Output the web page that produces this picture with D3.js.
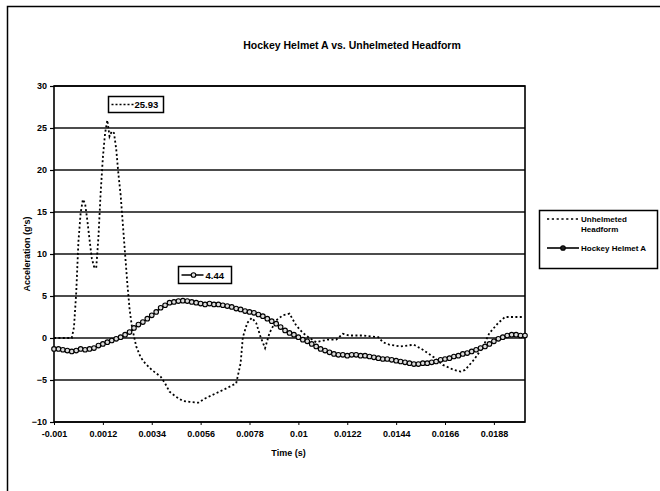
<!DOCTYPE html>
<html>
<head>
<meta charset="utf-8">
<script src="https://cdn.jsdelivr.net/npm/d3@7"></script>
<style>
  html, body { margin: 0; padding: 0; background: #fff; }
  svg text { font-family: "Liberation Sans", Arial, sans-serif; font-weight: bold; fill: #000; }
</style>
</head>
<body>
<svg id="chart" width="660" height="491"></svg>
<script>
// ---------------- DATA ----------------
const chartTitle = "Hockey Helmet A vs. Unhelmeted Headform";
const xTitle = "Time (s)";
const yTitle = "Acceleration (g's)";
const xTickValues = [-0.001, 0.0012, 0.0034, 0.0056, 0.0078, 0.01, 0.0122, 0.0144, 0.0166, 0.0188];
const xTickLabels = ["-0.001", "0.0012", "0.0034", "0.0056", "0.0078", "0.01", "0.0122", "0.0144", "0.0166", "0.0188"];
const yTickValues = [-10, -5, 0, 5, 10, 15, 20, 25, 30];
const seriesNames = ["Unhelmeted Headform", "Hockey Helmet A"];

// Unhelmeted headform (dotted line)
const unhelmetedTime = [
  -0.001, -0.0005, -0.0002, -0.0001, 0.0, 0.0001, 0.0002, 0.0003, 0.0004, 0.0005,
  0.0006, 0.0007, 0.0008, 0.0009, 0.0010, 0.0011, 0.0012, 0.0013, 0.0014, 0.0015,
  0.0016, 0.0017, 0.0018, 0.0019, 0.0020, 0.0021, 0.0022, 0.0023, 0.0024, 0.0025,
  0.0026, 0.0027, 0.0029, 0.0031, 0.0034, 0.0038, 0.0040, 0.0042, 0.0045, 0.0048,
  0.0051, 0.0055, 0.0058, 0.0062, 0.0066, 0.0072, 0.0074, 0.0075, 0.0077, 0.0079,
  0.0081, 0.0083, 0.0085, 0.0087, 0.0090, 0.0093, 0.0096, 0.0099, 0.0102, 0.0105,
  0.0108, 0.0113, 0.0117, 0.0120, 0.0123, 0.0129, 0.0136, 0.0138, 0.0141, 0.0146,
  0.0152, 0.0156, 0.0161, 0.0165, 0.0170, 0.0173, 0.0175, 0.0179, 0.0183, 0.0186,
  0.0190, 0.0193, 0.0197, 0.0201
];
const unhelmetedAccel = [
  0, 0, 0, 1.3, 5.4, 11.5, 14.9, 16.5, 16.0, 14.0,
  11.7, 9.5, 8.5, 8.3, 12.0, 17.3, 21.5, 24.4, 25.93, 24.0,
  24.6, 24.4, 22.5, 19.5, 17.0, 13.5, 10.0, 6.5, 3.5, 1.5,
  0.2, -1.0, -2.3, -3.0, -3.8, -4.6, -5.4, -6.4, -7.0, -7.5,
  -7.6, -7.7, -7.2, -6.7, -6.2, -5.4, -3.0, 0.1, 1.8, 2.4,
  1.8, 0.1, -1.2, 0.6, 2.1, 2.7, 2.9, 1.5, 0.6, 0,
  -0.5, -0.2, -0.2, 0.5, 0.3, 0.3, 0.1, -0.5, -0.8, -1.0,
  -0.8, -1.4, -2.3, -3.2, -3.8, -4.0, -3.8, -2.6, -1.1, 0.6,
  1.8, 2.5, 2.5, 2.5
];

// Hockey helmet A (solid line with circle markers), sampled every 0.0002 s from -0.001 s
const helmetStart = -0.001;
const helmetStep = 0.0002;
const helmetAccel = [
  -1.3, -1.3, -1.4, -1.5, -1.6,
  -1.5, -1.3, -1.4, -1.3, -1.2, -0.9, -0.7, -0.5, -0.3, -0.1,
  0.1, 0.4, 0.7, 1.2, 1.6, 1.9, 2.3, 2.7, 3.1, 3.6,
  3.9, 4.2, 4.3, 4.4, 4.44, 4.4, 4.3, 4.2, 4.1, 4.0,
  4.1, 4.0, 4.0, 3.9, 3.8, 3.7, 3.5, 3.4, 3.2, 3.1,
  3.0, 2.8, 2.6, 2.3, 2.0, 1.7, 1.3, 0.9, 0.6, 0.4,
  0.1, -0.2, -0.4, -0.7, -1.0, -1.3, -1.5, -1.7, -1.9, -2.0,
  -2.0, -2.1, -2.0, -2.0, -2.1, -2.1, -2.2, -2.3, -2.4, -2.5,
  -2.5, -2.6, -2.7, -2.8, -2.9, -3.0, -3.1, -3.1, -3.0, -3.0,
  -2.9, -2.8, -2.6, -2.5, -2.4, -2.2, -2.1, -1.9, -1.8, -1.6,
  -1.4, -1.2, -1.0, -0.7, -0.4, -0.1, 0.1, 0.3, 0.4, 0.4,
  0.3, 0.3
];
const helmetTime = helmetAccel.map((_, i) => helmetStart + i * helmetStep);

// ---------------- CHART ----------------
const svg = d3.select("#chart");
const W = 660, H = 491;
const plot = { left: 54, right: 525, top: 86, bottom: 422 };

svg.append("rect").attr("x", 0).attr("y", 0).attr("width", W).attr("height", H).attr("fill", "#fff");
// chart area frame (extends beyond the picture on right/bottom)
svg.append("rect").attr("x", 7.5).attr("y", 6.5).attr("width", 760).attr("height", 600)
  .attr("fill", "none").attr("stroke", "#000").attr("stroke-width", 1.5);

const x = d3.scaleLinear().domain([-0.001, 0.0202]).range([plot.left, plot.right]);
const y = d3.scaleLinear().domain([-10, 30]).range([plot.bottom, plot.top]);

// title
svg.append("text").attr("x", 352).attr("y", 49).attr("text-anchor", "middle")
  .attr("font-size", 10.5).text(chartTitle);

// gridlines
svg.append("g").selectAll("line").data(yTickValues).join("line")
  .attr("x1", plot.left).attr("x2", plot.right)
  .attr("y1", d => y(d)).attr("y2", d => y(d))
  .attr("stroke", "#111").attr("stroke-width", 1.4);

// y axis
const yAxis = d3.axisLeft(y).tickValues(yTickValues).tickSize(4).tickPadding(3).tickFormat(d3.format("d"));
const gy = svg.append("g").attr("transform", `translate(${plot.left},0)`).call(yAxis);
gy.select(".domain").remove();
gy.selectAll("line").attr("stroke", "#000").attr("stroke-width", 1.2);
gy.selectAll("text").attr("font-size", 9).style("font-family", "Liberation Sans, Arial, sans-serif").style("font-weight", "bold");

// x axis
const xAxis = d3.axisBottom(x).tickValues(xTickValues).tickSize(3).tickPadding(6)
  .tickFormat((d, i) => xTickLabels[i]);
const gx = svg.append("g").attr("transform", `translate(0,${plot.bottom})`).call(xAxis);
gx.select(".domain").remove();
gx.selectAll("line").attr("stroke", "#000").attr("stroke-width", 1);
gx.selectAll("text").attr("font-size", 9).style("font-family", "Liberation Sans, Arial, sans-serif").style("font-weight", "bold");

// plot frame
svg.append("rect").attr("x", plot.left).attr("y", plot.top)
  .attr("width", plot.right - plot.left).attr("height", plot.bottom - plot.top)
  .attr("fill", "none").attr("stroke", "#000").attr("stroke-width", 1.6);

// axis titles
svg.append("text").attr("x", (plot.left + plot.right) / 2 - 1).attr("y", 456)
  .attr("text-anchor", "middle").attr("font-size", 9).text(xTitle);
svg.append("text").attr("transform", `translate(30,${(plot.top + plot.bottom) / 2}) rotate(-90)`)
  .attr("text-anchor", "middle").attr("font-size", 9).text(yTitle);

// series
const line = d3.line().x(d => x(d[0])).y(d => y(d[1]));
const unData = unhelmetedTime.map((t, i) => [t, unhelmetedAccel[i]]);
const heData = helmetTime.map((t, i) => [t, helmetAccel[i]]);

svg.append("path").datum(unData).attr("d", line)
  .attr("fill", "none").attr("stroke", "#000").attr("stroke-width", 1.8)
  .attr("stroke-dasharray", "2,2.4");

svg.append("path").datum(heData).attr("d", line)
  .attr("fill", "none").attr("stroke", "#000").attr("stroke-width", 1.6);
svg.append("g").selectAll("circle").data(heData).join("circle")
  .attr("cx", d => x(d[0])).attr("cy", d => y(d[1])).attr("r", 2.3)
  .attr("fill", "#ddd").attr("stroke", "#000").attr("stroke-width", 1.1);

// data labels (max values)
function dataLabel(bx, by, bw, bh, dotted, label) {
  const g = svg.append("g");
  g.append("rect").attr("x", bx).attr("y", by).attr("width", bw).attr("height", bh)
    .attr("fill", "#fff").attr("stroke", "#000").attr("stroke-width", 1.5);
  const cy = by + bh / 2;
  if (dotted) {
    g.append("line").attr("x1", bx + 3).attr("x2", bx + 25).attr("y1", cy).attr("y2", cy)
      .attr("stroke", "#000").attr("stroke-width", 1.5).attr("stroke-dasharray", "2,2");
    g.append("text").attr("x", bx + 26).attr("y", cy + 3.5).attr("font-size", 9.5).text(label);
  } else {
    g.append("line").attr("x1", bx + 3).attr("x2", bx + 25).attr("y1", cy).attr("y2", cy)
      .attr("stroke", "#000").attr("stroke-width", 1.5);
    g.append("circle").attr("cx", bx + 15).attr("cy", cy).attr("r", 2.3)
      .attr("fill", "#ddd").attr("stroke", "#000").attr("stroke-width", 1.1);
    g.append("text").attr("x", bx + 27).attr("y", cy + 3.5).attr("font-size", 9.5).text(label);
  }
}
const unMax = d3.max(unhelmetedAccel);
const heMax = d3.max(helmetAccel);
dataLabel(108.5, 96.5, 55, 16, true, unMax.toFixed(2));
dataLabel(178.5, 266.5, 53, 17, false, heMax.toFixed(2));

// legend
const lg = svg.append("g");
lg.append("rect").attr("x", 539.5).attr("y", 210.5).attr("width", 118).attr("height", 58)
  .attr("fill", "#fff").attr("stroke", "#000").attr("stroke-width", 1.5);
lg.append("line").attr("x1", 547).attr("x2", 579).attr("y1", 219).attr("y2", 219)
  .attr("stroke", "#000").attr("stroke-width", 1.5).attr("stroke-dasharray", "2.2,2.6");
lg.append("text").attr("x", 581).attr("y", 222).attr("font-size", 8).text("Unhelmeted");
lg.append("text").attr("x", 581).attr("y", 232).attr("font-size", 8).text("Headform");
lg.append("line").attr("x1", 547).attr("x2", 579).attr("y1", 248).attr("y2", 248)
  .attr("stroke", "#000").attr("stroke-width", 1.6);
lg.append("circle").attr("cx", 563).attr("cy", 248).attr("r", 2.3)
  .attr("fill", "#222").attr("stroke", "#000").attr("stroke-width", 1.1);
lg.append("text").attr("x", 581).attr("y", 251).attr("font-size", 8).text(seriesNames[1]);
</script>
</body>
</html>
